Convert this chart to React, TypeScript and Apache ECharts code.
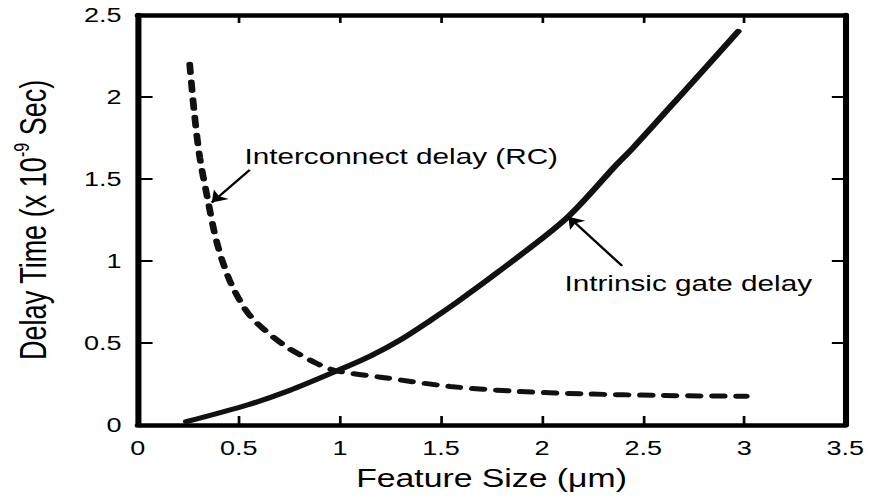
import React, { useEffect, useRef } from "react";
import * as echarts from "echarts";

// The reference scan is stretched horizontally; we draw at a narrower width and scale in x.
const W = 645;
const H = 498;
const SX = 871 / W;

const FONT = "'Liberation Sans', Arial, Helvetica, sans-serif";

// Axis ranges / ticks
const xRange = [0, 3.5];
const xStep = 0.5;
const yRange = [0, 2.5];
const yStep = 0.5;

// Intrinsic gate delay (solid)
const gateDelay: [number, number][] = [
  [0.24, 0.02], [0.55, 0.125], [0.75, 0.21], [0.985, 0.33], [1.15, 0.42],
  [1.3, 0.52], [1.45, 0.64], [1.58, 0.75], [1.79, 0.94], [2.12, 1.26],
  [2.37, 1.59], [2.45, 1.69], [2.7, 2.03], [2.97, 2.4],
];

// Interconnect delay (RC) (dashed)
const rcDelay: [number, number][] = [
  [0.257, 2.2], [0.28, 1.9], [0.307, 1.63], [0.347, 1.37], [0.38, 1.17],
  [0.416, 1.01], [0.47, 0.84], [0.56, 0.66], [0.72, 0.49], [0.886, 0.375],
  [0.985, 0.33], [1.21, 0.29], [1.545, 0.235], [1.876, 0.205], [2.2, 0.19],
  [2.6, 0.18], [3.01, 0.175],
];

// Annotation arrows (data coords): [from, to]
const rcArrow: [number, number][] = [[0.554, 1.556], [0.366, 1.356]];
const gateArrow: [number, number][] = [[2.396, 0.97], [2.13, 1.27]];

const rcLabel = "Interconnect delay (RC)";
const gateLabel = "Intrinsic gate delay";
const xName = "Feature Size (μm)";

const axisLine = { show: true, onZero: false, lineStyle: { color: "#000", width: 4.5 } };

function arrowMark(a: [number, number][]) {
  return {
    silent: true,
    symbol: ["none", "arrow"],
    symbolSize: 11,
    label: { show: false },
    lineStyle: { color: "#000", width: 2, type: "solid" },
    data: [[{ coord: a[0] }, { coord: a[1] }]],
  };
}

const option: any = {
  animation: false,
  grid: { left: 102, right: 19, top: 15, bottom: 73 },
  xAxis: [
    {
      type: "value",
      min: xRange[0],
      max: xRange[1],
      interval: xStep,
      position: "bottom",
      axisLine,
      axisTick: { show: true, inside: true, length: 9, lineStyle: { color: "#000", width: 2 } },
      axisLabel: { fontSize: 20, color: "#000", fontFamily: FONT, margin: 13 },
      splitLine: { show: false },
      name: xName,
      nameLocation: "middle",
      nameGap: 41,
      nameTextStyle: { fontSize: 25, color: "#000", fontFamily: FONT },
    },
    {
      type: "value",
      min: xRange[0],
      max: xRange[1],
      interval: xStep,
      position: "top",
      axisLine,
      axisTick: { show: true, inside: true, length: 8, lineStyle: { color: "#000", width: 2 } },
      axisLabel: { show: false },
      splitLine: { show: false },
    },
  ],
  yAxis: [
    {
      type: "value",
      min: yRange[0],
      max: yRange[1],
      interval: yStep,
      position: "left",
      axisLine,
      axisTick: { show: true, inside: true, length: 11, lineStyle: { color: "#000", width: 2 } },
      axisLabel: { fontSize: 20, color: "#000", fontFamily: FONT, margin: 12 },
      splitLine: { show: false },
      name: "{a|Delay Time (x 10}{s|-9}{a| Sec)}",
      nameLocation: "middle",
      nameGap: 60,
      nameTextStyle: {
        color: "#000",
        fontFamily: FONT,
        rich: {
          a: { fontSize: 27, fontFamily: FONT, color: "#000", lineHeight: 34 },
          s: { fontSize: 16, fontFamily: FONT, color: "#000", lineHeight: 34, verticalAlign: "top" },
        },
      },
    },
    {
      type: "value",
      min: yRange[0],
      max: yRange[1],
      interval: yStep,
      position: "right",
      axisLine,
      axisTick: { show: true, inside: true, length: 10, lineStyle: { color: "#000", width: 2 } },
      axisLabel: { show: false },
      splitLine: { show: false },
    },
  ],
  series: [
    {
      name: gateLabel,
      type: "line",
      xAxisIndex: 0,
      yAxisIndex: 0,
      data: gateDelay,
      showSymbol: false,
      smooth: 0.3,
      lineStyle: { color: "#111", width: 5, cap: "round" },
      markLine: arrowMark(gateArrow),
    },
    {
      name: rcLabel,
      type: "line",
      xAxisIndex: 0,
      yAxisIndex: 0,
      data: rcDelay,
      showSymbol: false,
      smooth: 0.3,
      lineStyle: { color: "#111", width: 5, type: [8.5, 9.3], cap: "round" },
      markLine: arrowMark(rcArrow),
    },
  ],
  graphic: [
    {
      type: "text",
      x: 181,
      y: 156.5,
      style: { text: rcLabel, font: `22px ${FONT}`, fill: "#000", verticalAlign: "middle", align: "left" },
    },
    {
      type: "text",
      x: 418,
      y: 283.5,
      style: { text: gateLabel, font: `22px ${FONT}`, fill: "#000", verticalAlign: "middle", align: "left" },
    },
  ],
};

export default function App() {
  const ref = useRef<HTMLDivElement>(null);
  useEffect(() => {
    const chart = echarts.init(ref.current!, null, { renderer: "svg", width: W, height: H });
    chart.setOption(option);
    return () => chart.dispose();
  }, []);
  return (
    <div
      ref={ref}
      style={{
        position: "absolute",
        left: 0,
        top: 0,
        width: W,
        height: H,
        transform: `scaleX(${SX})`,
        transformOrigin: "0 0",
        background: "#fff",
      }}
    />
  );
}
